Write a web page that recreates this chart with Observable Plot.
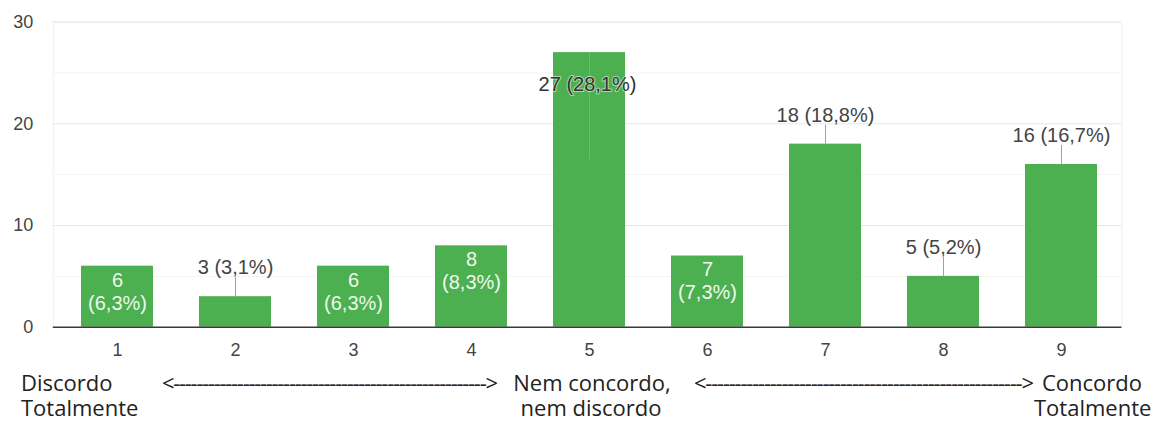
<!DOCTYPE html>
<html>
<head>
<meta charset="utf-8">
<script src="https://cdn.jsdelivr.net/npm/d3@7"></script>
<script src="https://cdn.jsdelivr.net/npm/@observablehq/plot@0.6"></script>
<style>
  html, body { margin: 0; padding: 0; background: #fff; }
  #wrap { position: relative; width: 1161px; height: 421px; }
  #chart svg { display: block; }
  .cap { position: absolute; font-family: "Open Sans", sans-serif; font-size: 22px;
         line-height: 25px; color: #222; white-space: nowrap; }
</style>
</head>
<body>
<div id="wrap">
  <div id="chart"></div>
</div>
<script>
// Scale points 1–9, number of answers and share of answers
const categories = ["1", "2", "3", "4", "5", "6", "7", "8", "9"];
const counts = [6, 3, 6, 8, 27, 7, 18, 5, 16];
const percents = ["6,3%", "3,1%", "6,3%", "8,3%", "28,1%", "7,3%", "18,8%", "5,2%", "16,7%"];
const yTicks = [0, 10, 20, 30];
const yMinorGrid = [5, 15, 25];

// Scale anchors written under the axis
const anchorLow = ["Discordo", "Totalmente"];
const anchorMid = ["Nem concordo,", "nem discordo"];
const anchorHigh = ["Concordo", "Totalmente"];

const data = categories.map((c, i) => ({cat: c, count: counts[i], pct: percents[i]}));
const full = d => `${d.count} (${d.pct})`;

const W = 1161, H = 362;
const mTop = 21.6, mBottom = H - 326.7;
const pxPerUnit = (H - mTop - mBottom) / 30;
const stem = 19 / pxPerUnit; // stem length of the outside annotations, in data units

// Annotation placement: the tallest bar carries its label at the top,
// mid-height bars carry it inside, the rest above with a stem.
const maxCount = d3.max(counts);
const isTop = d => d.count === maxCount;
const isInside = d => !isTop(d) && d.count >= 6 && d.count <= 8;
const isOutside = d => !isTop(d) && !isInside(d);

const chart = Plot.plot({
  width: W,
  height: H,
  marginTop: mTop,
  marginBottom: mBottom,
  marginLeft: 55.8,
  marginRight: W - 1121.4,
  style: {fontFamily: "Arial, 'Liberation Sans', sans-serif", fontSize: "18px", color: "#444", background: "#fff"},
  x: {domain: categories, paddingInner: 0.392, paddingOuter: 0.196, label: null, tickSize: 0, tickPadding: 16},
  y: {domain: [0, 30], ticks: yTicks, label: null, tickSize: 0, tickPadding: 23},
  marks: [
    Plot.frame({stroke: "#f1f1f1", insetLeft: -3}),
    Plot.ruleY(yMinorGrid, {stroke: "#f4f4f4", insetLeft: -3}),
    Plot.ruleY(yTicks.filter(v => v > 0), {stroke: "#e7e7e7", insetLeft: -3}),
    Plot.barY(data, {x: "cat", y: "count", fill: "#4caf50"}),
    Plot.ruleY([0], {stroke: "#3a3a3a", strokeWidth: 1.6, insetLeft: -3}),
    // stems and labels above the short bars
    Plot.ruleX(data.filter(isOutside), {x: "cat", y1: "count", y2: d => d.count + stem, stroke: "#a0a0a0"}),
    Plot.text(data.filter(isOutside), {x: "cat", y: "count", text: full, dy: -29, fill: "#444", fontSize: 20}),
    // labels inside the mid-height bars
    Plot.text(data.filter(isInside), {x: "cat", y: "count", text: d => `${d.count}`, dy: 14, fill: "#eef8ee", fontSize: 20}),
    Plot.text(data.filter(isInside), {x: "cat", y: "count", text: d => `(${d.pct})`, dy: 37, fill: "#eef8ee", fontSize: 20}),
    // label of the tallest bar, drawn over the bar with a light halo
    Plot.ruleX(data.filter(isTop), {x: "cat", y1: "count", y2: d => d.count - 10.5, stroke: "#ffffff", strokeOpacity: 0.18}),
    Plot.text(data.filter(isTop), {x: "cat", y: "count", text: full, dy: 32, dx: -2, fill: "#333", fontSize: 20,
      stroke: "#ffffff", strokeOpacity: 0.55, strokeWidth: 2, paintOrder: "stroke"})
  ]
});
document.getElementById("chart").appendChild(chart);

// Caption with the scale anchors
const wrap = document.getElementById("wrap");
const lineTop = 370, lineStep = 25;

function addLine(text, x, row, anchor) {
  const s = document.createElement("div");
  s.className = "cap";
  s.textContent = text;
  s.style.top = (lineTop + row * lineStep) + "px";
  s.style.left = x + "px";
  if (anchor === "middle") s.style.transform = "translateX(-50%)";
  wrap.appendChild(s);
  return s;
}

// "<----->" arrow made of hyphens, spaced so that it spans [left, right]
function addArrow(left, right, row) {
  const s = addLine("<" + "-".repeat(54) + ">", left, row);
  const w = s.getBoundingClientRect().width;
  const n = s.textContent.length;
  s.style.letterSpacing = ((right - left - w) / (n - 1)) + "px";
}

addLine(anchorLow[0], 21, 0);
addLine(anchorLow[1], 21, 1);
addArrow(162, 498, 0);
addLine(anchorMid[0], 592, 0, "middle");
addLine(anchorMid[1], 591, 1, "middle");
addArrow(694, 1034, 0);
addLine(anchorHigh[0], 1042, 0);
addLine(anchorHigh[1], 1034, 1);
</script>
</body>
</html>
